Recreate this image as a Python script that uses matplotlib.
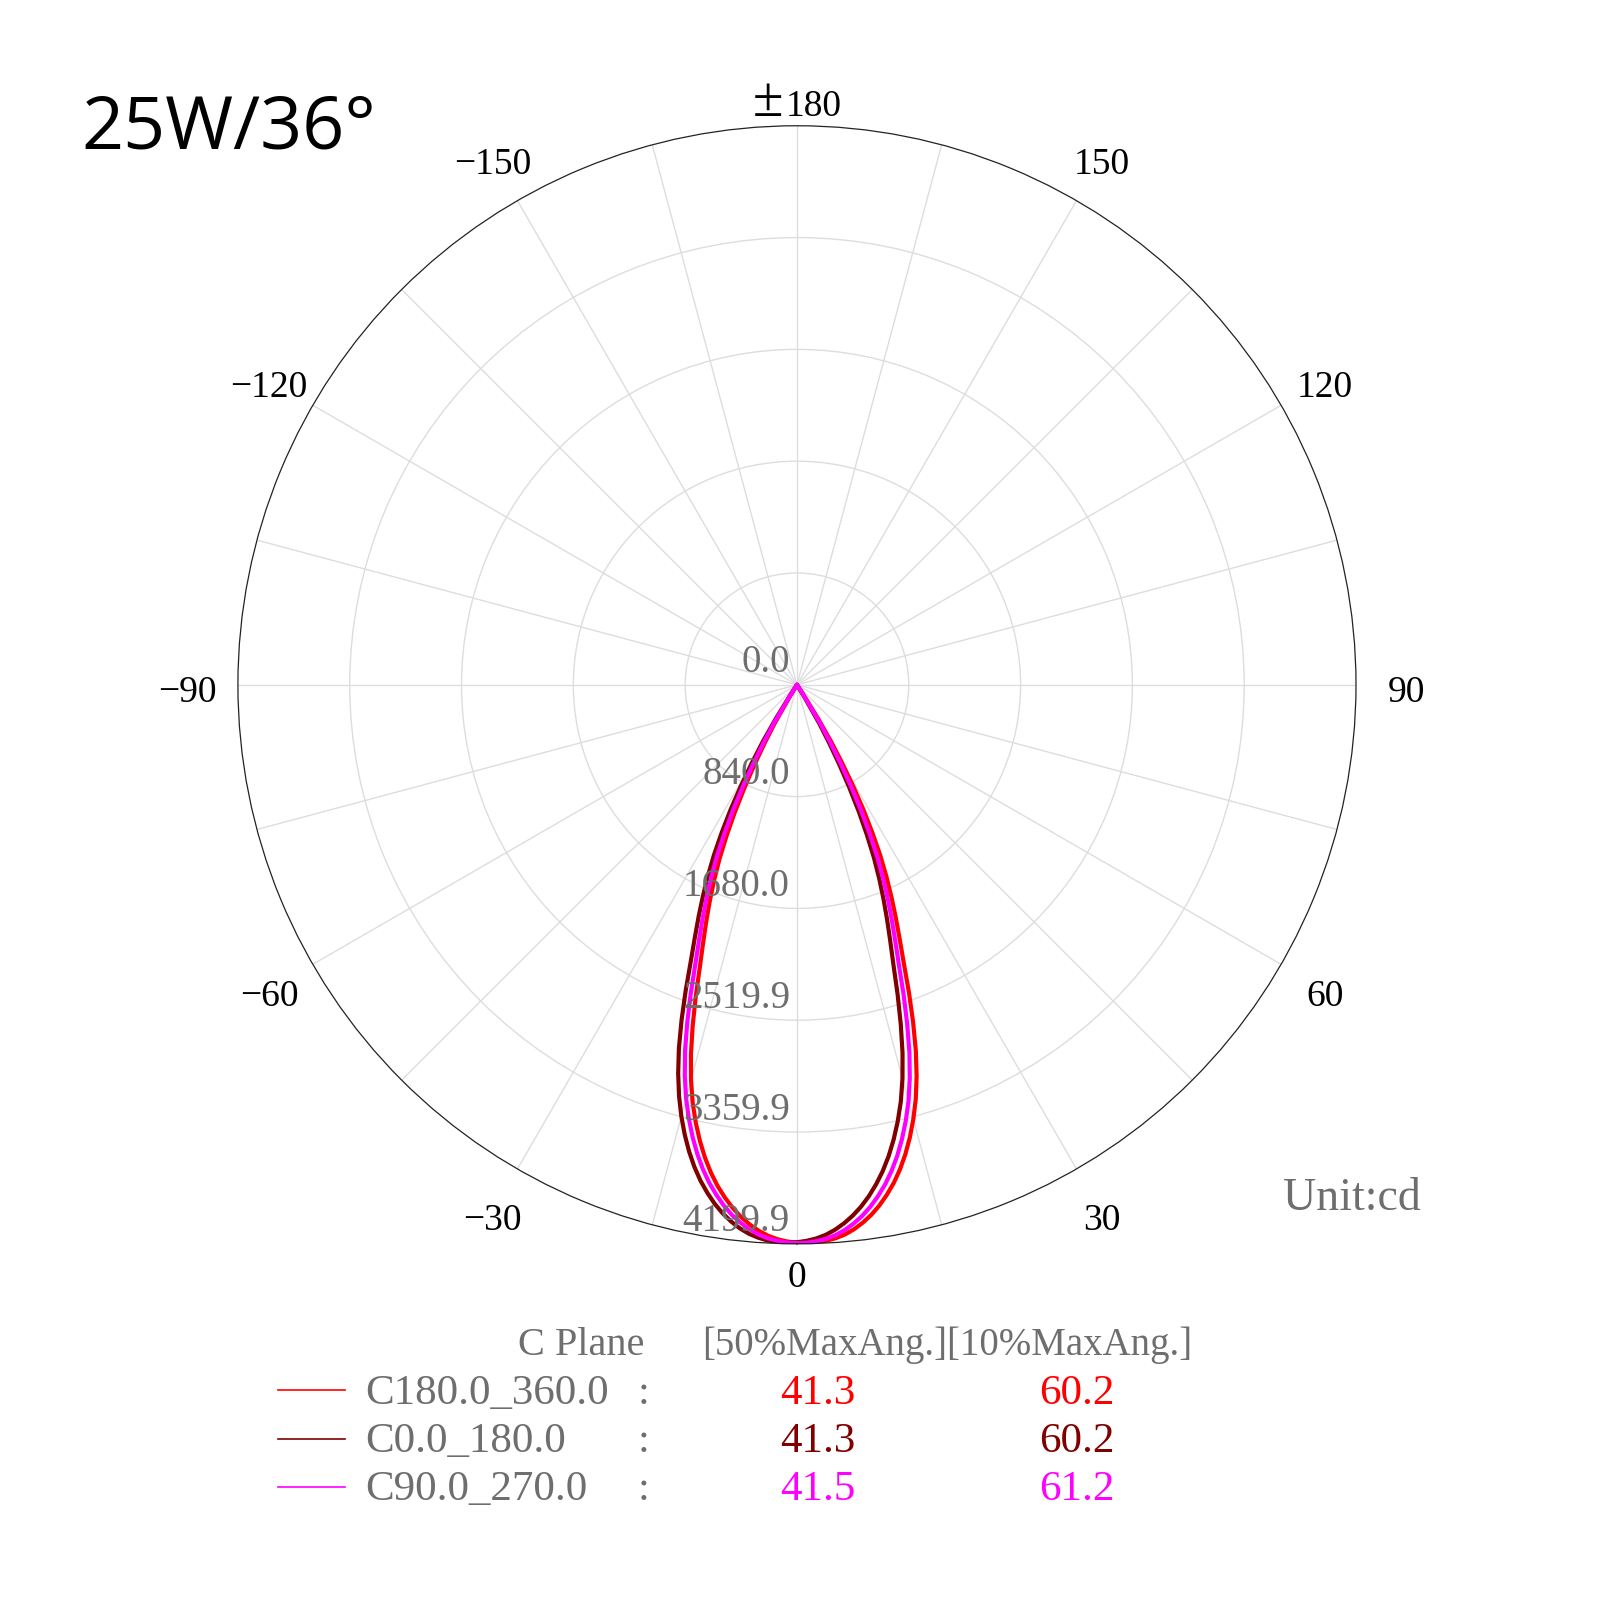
import numpy as np
import matplotlib
matplotlib.use("Agg")
import matplotlib.pyplot as plt
import matplotlib.transforms as mtransforms
from matplotlib.lines import Line2D

# gamma angles (deg) for one half of each C-plane pair
gamma = [0, 1, 2, 3, 4, 5, 6, 7, 8, 9, 10, 11, 12, 13, 14, 15, 16, 17, 18, 19,
         20, 21, 22, 23, 24, 25, 26, 27, 28, 29, 30, 31, 32, 33, 35, 40, 50, 90, 180]

# intensities (cd); pos = +gamma side, neg = -gamma side
c180_pos = [4192, 4195, 4192, 4183, 4168, 4145, 4112, 4070, 4020, 3960, 3890, 3812, 3722, 3620,
            3505, 3378, 3238, 3075, 2890, 2680, 2460, 2240, 2060, 1900, 1745, 1590, 1430, 1250,
            1065, 870, 680, 500, 300, 100, 10, 0, 0, 0, 0]
c180_neg = [4192, 4183, 4168, 4145, 4112, 4070, 4020, 3960, 3890, 3812, 3722, 3620, 3505, 3378,
            3238, 3075, 2890, 2680, 2460, 2240, 2060, 1900, 1745, 1590, 1430, 1250, 1065, 870,
            680, 500, 340, 120, 35, 10, 2, 0, 0, 0, 0]
c0_pos = [4188, 4178, 4162, 4138, 4104, 4061, 4010, 3950, 3880, 3800, 3710, 3608, 3493, 3366,
          3226, 3063, 2878, 2668, 2448, 2228, 2050, 1890, 1736, 1582, 1422, 1243, 1060, 866,
          676, 496, 336, 118, 34, 10, 2, 0, 0, 0, 0]
c0_neg = [4188, 4193, 4190, 4181, 4164, 4140, 4106, 4062, 4010, 3948, 3876, 3796, 3704, 3600,
          3484, 3356, 3214, 3052, 2870, 2662, 2444, 2226, 2048, 1890, 1736, 1582, 1422, 1243,
          1060, 866, 676, 496, 296, 98, 10, 0, 0, 0, 0]
c90_pos = [4195, 4192, 4183, 4168, 4145, 4112, 4070, 4020, 3960, 3890, 3812, 3722, 3620, 3505,
           3378, 3238, 3075, 2890, 2680, 2460, 2240, 2060, 1900, 1745, 1590, 1430, 1250, 1065,
           870, 680, 500, 340, 120, 35, 5, 0, 0, 0, 0]
c90_neg = [4195, 4191, 4180, 4164, 4140, 4106, 4063, 4012, 3950, 3878, 3798, 3706, 3602, 3486,
           3358, 3218, 3057, 2875, 2668, 2450, 2232, 2052, 1893, 1738, 1584, 1424, 1245, 1060,
           866, 676, 496, 335, 118, 34, 5, 0, 0, 0, 0]

plane_names = ["C180.0_360.0", "C0.0_180.0", "C90.0_270.0"]
colors = ["#ff0000", "#800000", "#ff00ff"]
half_angle50 = ["41.3", "41.3", "41.5"]
half_angle10 = ["60.2", "60.2", "61.2"]

ring_values = [0.0, 840.0, 1680.0, 2519.9, 3359.9, 4199.9]
angle_ticks = [-150, -120, -90, -60, -30, 0, 30, 60, 90, 120, 150]
angle_labels = ["\u2212150", "\u2212120", "\u221290", "\u221260", "\u221230", "0",
                "30", "60", "90", "120", "150"]

serif = "Liberation Serif"
gray = "#6e6e6e"

fig = plt.figure(figsize=(16, 16), dpi=100)
ax = fig.add_axes([0.1487, 0.2226, 0.6988, 0.6988], projection="polar")
ax.set_theta_zero_location("S")
ax.set_theta_direction(1)
rmax = ring_values[-1]
ax.set_rlim(0, rmax)

ax.set_thetagrids(np.arange(0, 360, 15), labels=[])
ax.set_rgrids(ring_values[1:-1], labels=[])
ax.grid(True, color="#dddddd", linewidth=1.0)
ax.spines["polar"].set_color("#222222")
ax.spines["polar"].set_linewidth(0.9)
ax.tick_params(length=0)

g = np.array(gamma)
curves = [(c180_neg, c180_pos), (c0_neg, c0_pos), (c90_neg, c90_pos)]
for (neg, pos), col in zip(curves, colors):
    th = np.concatenate([-g[::-1], g[1:]])
    rr = np.concatenate([np.array(neg)[::-1], np.array(pos)[1:]])
    ax.plot(np.radians(th), rr, color=col, linewidth=3.0,
            solid_joinstyle="round", solid_capstyle="round")

# angle labels around the rim (baseline sits a bit below the anchor point)
lab_tr = mtransforms.offset_copy(ax.transData, fig=fig, x=0, y=-17, units="dots")
for a, lab in zip(angle_ticks, angle_labels):
    f = 1.047 if a == 0 else 1.09
    ax.text(np.radians(a), rmax * f, lab, transform=lab_tr, ha="center", va="baseline",
            fontsize=27, family=serif, color="black", clip_on=False)

# top label: wide plus-minus sign followed by 180
pm_tr = mtransforms.offset_copy(ax.transData, fig=fig, x=-14, y=0, units="dots")
num_tr = mtransforms.offset_copy(ax.transData, fig=fig, x=-11, y=0, units="dots")
ax.text(np.pi, rmax * 1.018, "\u00b1", transform=pm_tr, ha="right", va="baseline",
        fontsize=40, family=serif, color="black", clip_on=False)
ax.text(np.pi, rmax * 1.018, "180", transform=num_tr, ha="left", va="baseline",
        fontsize=27, family=serif, color="black", clip_on=False)

# ring value labels, just left of the 0 direction
off = mtransforms.offset_copy(ax.transData, fig=fig, x=-7, y=22, units="dots")
for v in ring_values:
    ax.text(0, v, f"{v:.1f}", transform=off, ha="right", va="center",
            fontsize=28, family=serif, color=gray, clip_on=False)

fig.text(0.051, 0.907, "25W/36\u00b0", fontsize=53, family="Open Sans",
         color="black", ha="left", va="baseline")

fig.text(0.802, 0.251, "Unit:cd", fontsize=33, family=serif, color=gray,
         ha="left", va="center")

# legend table
fig.text(0.4025, 0.159, "C Plane", fontsize=29, family=serif, color=gray,
         ha="right", va="center")
fig.text(0.592, 0.159, "[50%MaxAng.][10%MaxAng.]", fontsize=28, family=serif,
         color=gray, ha="center", va="center")
row_y = [0.129, 0.0986, 0.0686]
for name, col, v50, v10, y in zip(plane_names, colors, half_angle50, half_angle10, row_y):
    fig.add_artist(Line2D([0.174, 0.2156], [y + 0.002, y + 0.002], color=col, linewidth=1.2,
                          transform=fig.transFigure))
    fig.text(0.228, y, name, fontsize=31, family=serif, color=gray, ha="left", va="center")
    fig.text(0.402, y, ":", fontsize=31, family=serif, color=gray, ha="center", va="center")
    fig.text(0.511, y, v50, fontsize=31, family=serif, color=col, ha="center", va="center")
    fig.text(0.673, y, v10, fontsize=31, family=serif, color=col, ha="center", va="center")

fig.savefig("out.png", dpi=100, facecolor="white")
